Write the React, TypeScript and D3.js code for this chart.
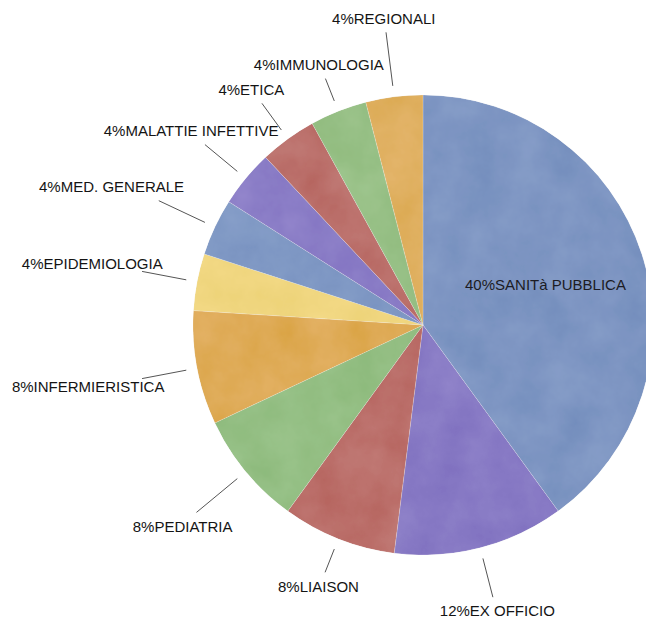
import React, { useEffect, useRef } from "react";
import * as d3 from "d3";

// slices, clockwise from 12 o'clock
const categories = [
  "SANITà PUBBLICA",
  "EX OFFICIO",
  "LIAISON",
  "PEDIATRIA",
  "INFERMIERISTICA",
  "EPIDEMIOLOGIA",
  "MED. GENERALE",
  "MALATTIE INFETTIVE",
  "ETICA",
  "IMMUNOLOGIA",
  "REGIONALI",
];
const shares = [40, 12, 8, 8, 8, 4, 4, 4, 4, 4, 4];

const sliceColors = [
  "#7d95c2",
  "#8779c4",
  "#bb6f6a",
  "#94bf84",
  "#dfab57",
  "#f0d67f",
  "#7f98c4",
  "#8a7cc6",
  "#bb706b",
  "#97c086",
  "#e0b061",
];

// leader line length past the slice edge, per label (layout only)
const leaderLengths = [0, 40, 25, 53, 45, 45, 51, 42, 33, 24, 54];

type Slice = { name: string; value: number; color: string; leader: number };

const App = () => {
  const chartRef = useRef<SVGSVGElement | null>(null);

  useEffect(() => {
    const width = 646;
    const height = 620;
    const cx = 423;
    const cy = 325;
    const radius = 230;

    const svg = d3.select(chartRef.current);
    svg.selectAll("*").remove();

    const data: Slice[] = categories.map((name, i) => ({
      name,
      value: shares[i],
      color: sliceColors[i],
      leader: leaderLengths[i],
    }));

    // marble-ish texture
    const defs = svg.append("defs");
    const filter = defs
      .append("filter")
      .attr("id", "marble")
      .attr("x", "0%")
      .attr("y", "0%")
      .attr("width", "100%")
      .attr("height", "100%");
    filter
      .append("feTurbulence")
      .attr("type", "fractalNoise")
      .attr("baseFrequency", "0.025")
      .attr("numOctaves", 5)
      .attr("seed", 3)
      .attr("result", "noise");
    filter
      .append("feColorMatrix")
      .attr("in", "noise")
      .attr("type", "matrix")
      .attr("values", "1 0 0 0 0  1 0 0 0 0  1 0 0 0 0  0 0 0 0 1")
      .attr("result", "tone");
    filter
      .append("feComposite")
      .attr("in", "SourceGraphic")
      .attr("in2", "tone")
      .attr("operator", "arithmetic")
      .attr("k1", 0)
      .attr("k2", 1)
      .attr("k3", 0.09)
      .attr("k4", -0.045)
      .attr("result", "mixed");
    filter
      .append("feComposite")
      .attr("in", "mixed")
      .attr("in2", "SourceGraphic")
      .attr("operator", "in");

    const pie = d3
      .pie<Slice>()
      .value((d) => d.value)
      .sort(null);

    const arc = d3.arc<d3.PieArcDatum<Slice>>().innerRadius(0).outerRadius(radius);

    const arcs = pie(data);

    const g = svg.append("g").attr("transform", `translate(${cx},${cy})`);

    g.append("g")
      .attr("filter", "url(#marble)")
      .selectAll("path")
      .data(arcs)
      .enter()
      .append("path")
      .attr("d", arc)
      .attr("fill", (d) => d.data.color)
      .attr("stroke", "rgba(255,255,255,0.3)")
      .attr("stroke-width", 0.6);

    const fontFamily = "'Liberation Sans', Arial, Helvetica, sans-serif";

    arcs.forEach((d, i) => {
      const a = (d.startAngle + d.endAngle) / 2;
      const dx = Math.sin(a);
      const dy = -Math.cos(a);
      const label = `${d.data.value}%${d.data.name}`;

      // the big slice gets its label inside
      if (i === 0) {
        g.append("text")
          .attr("x", dx * radius * 0.56)
          .attr("y", dy * radius * 0.56)
          .attr("dy", "0.35em")
          .attr("text-anchor", "middle")
          .attr("font-family", fontFamily)
          .attr("font-size", 15)
          .attr("fill", "#1c1c24")
          .text(label);
        return;
      }

      const r0 = radius + 11;
      const r1 = r0 + d.data.leader;
      g.append("line")
        .attr("x1", dx * r0)
        .attr("y1", dy * r0)
        .attr("x2", dx * r1)
        .attr("y2", dy * r1)
        .attr("stroke", "#555")
        .attr("stroke-width", 1);

      const t = g
        .append("text")
        .attr("text-anchor", "middle")
        .attr("font-family", fontFamily)
        .attr("font-size", 15)
        .attr("fill", "#141414")
        .text(label);

      const w = (t.node() as SVGTextElement).getComputedTextLength();
      const offX = Math.abs(dx) > 0.85 ? dx * w * 0.36 : dx * 18;
      const offY = Math.sign(dy) * (Math.abs(dy) < 0.3 ? 8 : 14);
      t.attr("x", dx * r1 + offX)
        .attr("y", dy * r1 + offY)
        .attr("dy", "0.35em");
    });

    svg.attr("width", width).attr("height", height);
  }, []);

  return (
    <div style={{ position: "fixed", left: 0, top: 0, background: "#fff" }}>
      <svg ref={chartRef} width={646} height={620} style={{ display: "block" }}></svg>
    </div>
  );
};

export default App;
